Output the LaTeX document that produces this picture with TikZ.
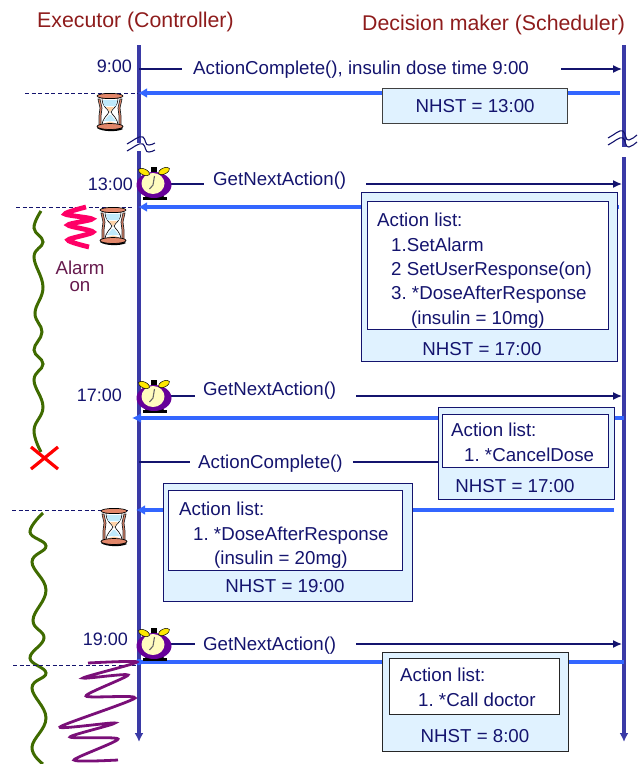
\documentclass[tikz,border=0pt]{standalone}
\usepackage{fontspec}
\setmainfont{Liberation Sans}
\usetikzlibrary{positioning,arrows.meta}
\definecolor{navytext}{HTML}{14146E}
\definecolor{lifecol}{HTML}{3A3AA6}
\definecolor{replyblue}{HTML}{3366FF}
\definecolor{boxfill}{HTML}{E0F2FF}
\definecolor{titlered}{HTML}{8E1C1C}
\definecolor{alarmmaroon}{HTML}{661A4D}
\definecolor{vinegreen}{HTML}{3F6B00}
\definecolor{spikepink}{HTML}{FF0066}
\definecolor{coilpurple}{HTML}{7A0F78}
\tikzset{
  lifeline/.style={draw=lifecol, line width=3.2pt},
  msgline/.style={draw=navytext, line width=1.4pt},
  msgarrow/.style={msgline, -{Latex[length=9pt,width=8pt]}},
  reply/.style={draw=replyblue, line width=3.3pt},
  replyarrow/.style={reply, -{Latex[length=9pt,width=10pt]}},
  waitline/.style={draw=navytext, line width=0.9pt, dash pattern=on 4pt off 2.6pt},
  breakmark/.style={draw=navytext, line width=1.1pt},
  title/.style={font=\fontsize{21.3}{24}\selectfont, text=titlered, inner sep=0pt},
  msglabel/.style={font=\fontsize{18.7}{24.4}\selectfont, text=navytext, inner sep=0pt},
  timelabel/.style={msglabel, anchor=east, font=\fontsize{18}{24}\selectfont},
  nhstbox/.style={draw=navytext, line width=1.2pt, fill=boxfill, anchor=north west, inner sep=0pt},
  actionbox/.style={draw=navytext, line width=1.2pt, fill=white, anchor=north west, inner sep=0pt},
  listtext/.style={msglabel, align=left},
  hourglass/.pic={
    \fill[black] (-13,16) .. controls (-8,20) and (8,20) .. (13,17) -- (8,14) -- (-9,14) -- cycle;
    \filldraw[fill=white, draw=black, line width=0.6pt] (-8,-14) .. controls (-8,-5) and (-2,-3) .. (-1,0)
      .. controls (-2,3) and (-8,6) .. (-8,14) -- (8,14) .. controls (8,6) and (2,3) .. (1,0)
      .. controls (2,-3) and (8,-5) .. (8,-14) -- cycle;
    \fill[cyan!25] (-7,-12) -- (7,-12) -- (6,-6) -- (-6,-6) -- cycle;
    \fill[cyan!25] (-1,3) -- (1,3) -- (6,9) -- (-6,9) -- cycle;
    \fill[orange!35] (-7,14) .. controls (-4,8) and (4,8) .. (7,14) -- cycle;
    \fill[orange!35] (-4,-5) -- (4,-5) -- (0,0) -- cycle;
    \draw[draw=black!85, fill=red!35!brown!70, line width=0.7pt] (-12,-13) -- (-10,-4) -- (-11,4) -- (-11,13) -- (-9,13) -- (-9,4) -- (-8,-4) -- (-10,-13) -- cycle;
    \draw[draw=black!85, fill=red!35!brown!70, line width=0.7pt] (12,-13) -- (10,-4) -- (11,4) -- (11,13) -- (9,13) -- (9,4) -- (8,-4) -- (10,-13) -- cycle;
    \filldraw[fill=red!35!brown!70, draw=black, line width=0.7pt] (0,-16) ellipse (13 and 2.6);
    \filldraw[fill=red!35!brown!70, draw=black, line width=0.7pt] (0,14.5) ellipse (13 and 3);
  },
  alarmclock/.pic={
    \fill[black] (-10,13) rectangle (14,16);
    \fill[black] (-7,9) -- (-4,9) -- (-5,14) -- (-8,14) -- cycle;
    \fill[black] (7,9) -- (10,9) -- (11,14) -- (8,14) -- cycle;
    \fill[violet!80!blue] (1,1) ellipse (17.5 and 13);
    \fill[yellow!25!white] (0,-0.5) ellipse (11.5 and 10.5);
    \draw[draw=gray!80!black, line width=1.1pt] (0,1) -- (1.5,-8) (0,1) -- (-3.5,5);
    \fill[black] (-2,-17) rectangle (4,-12);
    \filldraw[fill=yellow!90!orange, draw=black, line width=0.5pt, rotate around={-25:(-9,-12)}] (-9,-12) ellipse (6 and 3);
    \filldraw[fill=yellow!90!orange, draw=black, line width=0.5pt, rotate around={25:(11,-13)}] (11,-13) ellipse (6 and 3);
  },
}
\begin{document}
\frenchspacing
\begin{tikzpicture}[x=1pt,y=-1pt]
  \useasboundingbox (0,0) rectangle (640,764);

  \node[title, anchor=west] (exectitle) at (37,22) {Executor (Controller)};
  \node[title, anchor=west] (schedtitle) at (362,25) {Decision maker (Scheduler)};

  \coordinate (exectop) at (139,45);
  \coordinate (execgapa) at (139,143);
  \coordinate (execgapb) at (139,151);
  \coordinate (execend) at (139,742);
  \coordinate (schedtop) at (624,45);
  \coordinate (schedgapa) at (624,147);
  \coordinate (schedgapb) at (624,157);
  \coordinate (schedend) at (624,742);
  \draw[lifeline] (exectop) -- (execgapa);
  \draw[lifeline, -{Latex[length=9pt,width=9pt]}] (execgapb) -- (execend);
  \draw[lifeline] (schedtop) -- (schedgapa);
  \draw[lifeline, -{Latex[length=9pt,width=9pt]}] (schedgapb) -- (schedend);

  \foreach \wy in {0,7} {
    \draw[breakmark, yshift=-\wy pt] (127,144) .. controls (133,141) and (139,135) .. (143,137) .. controls (146,139) and (145,146) .. (149,145) .. controls (151,145) and (153,144) .. (155,143);
    \draw[breakmark, yshift=-\wy pt] (608,138) .. controls (614,135) and (620,129) .. (623,131) .. controls (626,133) and (625,141) .. (629,140) .. controls (632,139) and (635,137) .. (637,135);
  }

  % 9:00
  \coordinate (execa) at (139,69);
  \coordinate (scheda) at (622,69);
  \node[msglabel, right=54pt of execa, yshift=-1pt] (msga) {ActionComplete(), insulin dose time 9:00};
  \node[timelabel] (timea) at (132,66) {9:00};
  \draw[msgline] (execa) -- ([xshift=-11pt]msga.west |- execa);
  \draw[msgarrow] ([xshift=32pt]msga.east |- scheda) -- (scheda);
  \coordinate (execwaita) at (138,93);
  \coordinate (schedwaita) at (620,93);
  \coordinate (dasha) at (25,93);
  \draw[waitline] (dasha) -- (execwaita);
  \draw[replyarrow] (schedwaita) -- (execwaita);
  \node[nhstbox, draw=black!75, minimum width=185pt, minimum height=35pt, msglabel] (nhsta) at (382,88) {NHST = 13:00};
  \pic at (110,112) {hourglass};

  % 13:00
  \coordinate (execb) at (170,184);
  \coordinate (schedb) at (622,184);
  \node[msglabel, anchor=west] (msgb) at (213,180.5) {GetNextAction()};
  \node[timelabel] (timeb) at (133,184) {13:00};
  \draw[msgline] (execb) -- ([xshift=-9pt]msgb.west |- execb);
  \draw[msgarrow] ([xshift=20pt]msgb.east |- schedb) -- (schedb);
  \coordinate (execwaitb) at (138,207);
  \coordinate (schedwaitb) at (619,207);
  \coordinate (dashb) at (16,207);
  \coordinate (dashbend) at (132,207);
  \draw[waitline] (dashb) -- (dashbend);
  \draw[replyarrow] (schedwaitb) -- (execwaitb);
  \node[nhstbox, minimum width=256pt, minimum height=169pt] (boxb) at (361,192) {};
  \node[actionbox, minimum width=241pt, minimum height=128pt] (listb) at (367,201) {};
  \node[listtext, below right=12pt and 10pt of listb.north west] (textb) {Action list:\\
    \hspace*{14pt}1.SetAlarm\\
    \hspace*{14pt}2 SetUserResponse(on)\\
    \hspace*{14pt}3. *DoseAfterResponse\\
    \hspace*{34pt}(insulin = 10mg)};
  \node[msglabel] (nhstb) at (482,349) {NHST = 17:00};
  \pic at (153,184) {alarmclock};
  \pic at (113,226) {hourglass};

  \draw[draw=vinegreen, line width=3pt] plot[smooth, tension=0.7] coordinates {(41,211) (34,228) (43,242) (34,257) (43,287) (35,313) (42,332) (34,350) (43,364) (34,380) (43,407) (34,430) (41,452)};
  \draw[draw=spikepink, line width=4.8pt] plot[smooth, tension=0.45] coordinates {(86,207) (65,214) (92,219) (68,225) (93,232) (68,240) (89,247)};
  \node[msglabel, text=alarmmaroon, align=center, font=\fontsize{18.7}{17}\selectfont] (alarm) at (80,276) {Alarm\\on};
  \coordinate (crossa) at (31,447);
  \coordinate (crossb) at (58,469);
  \coordinate (crossc) at (58,447);
  \coordinate (crossd) at (31,469);
  \draw[red, line width=3.2pt] (crossa) -- (crossb) (crossc) -- (crossd);

  % 17:00
  \coordinate (execc) at (170,396);
  \coordinate (schedc) at (622,396);
  \node[msglabel, anchor=west] (msgc) at (203,391) {GetNextAction()};
  \node[timelabel] (timec) at (122,395) {17:00};
  \draw[msgline] (execc) -- ([xshift=-8pt]msgc.west |- execc);
  \draw[msgarrow] ([xshift=20pt]msgc.east |- schedc) -- (schedc);
  \coordinate (execwaitc) at (132,418);
  \coordinate (schedwaitc) at (624,418);
  \draw[replyarrow] (schedwaitc) -- (execwaitc);
  \pic at (153,397) {alarmclock};

  \coordinate (execd) at (139,462);
  \node[msglabel, right=59pt of execd, yshift=-2pt] (msgd) {ActionComplete()};
  \coordinate (boxdedge) at (438,462);
  \draw[msgline] (execd) -- ([xshift=-8pt]msgd.west |- execd);
  \draw[msgline] ([xshift=10pt]msgd.east |- boxdedge) -- (boxdedge);

  \node[nhstbox, minimum width=176pt, minimum height=92pt] (boxc) at (438,407) {};
  \node[actionbox, minimum width=166pt, minimum height=53pt] (listc) at (442,414) {};
  \node[listtext, below right=9pt and 9pt of listc.north west] (textc) {Action list:\\
    \hspace*{13pt}1. *CancelDose};
  \node[msglabel] (nhstc) at (515,486) {NHST = 17:00};

  % dose after response
  \coordinate (execwaite) at (136,510);
  \coordinate (schedwaite) at (614,510);
  \coordinate (dashe) at (12,510);
  \coordinate (dasheend) at (128,510);
  \draw[waitline] (dashe) -- (dasheend);
  \draw[replyarrow] (schedwaite) -- (execwaite);
  \node[nhstbox, minimum width=249pt, minimum height=118pt] (boxe) at (163,483) {};
  \node[actionbox, minimum width=234pt, minimum height=80pt] (liste) at (168,490) {};
  \node[listtext, below right=12pt and 11pt of liste.north west] (texte) {Action list:\\
    \hspace*{14pt}1. *DoseAfterResponse\\
    \hspace*{35pt}(insulin = 20mg)};
  \node[msglabel] (nhste) at (285,586) {NHST = 19:00};
  \pic at (114,527) {hourglass};

  \draw[draw=vinegreen, line width=3pt] plot[smooth, tension=0.7] coordinates {(43,513) (30,532) (46,546) (32,562) (46,590) (33,620) (44,638) (30,658) (46,673) (32,688) (46,718) (32,747) (43,764)};

  % 19:00
  \coordinate (execf) at (170,644);
  \coordinate (schedf) at (622,644);
  \node[msglabel, anchor=west] (msgf) at (203,646) {GetNextAction()};
  \node[timelabel] (timef) at (128,639) {19:00};
  \draw[msgline] (execf) -- ([xshift=-8pt]msgf.west |- execf);
  \draw[msgarrow] ([xshift=20pt]msgf.east |- schedf) -- (schedf);
  \coordinate (dashf) at (13,665);
  \coordinate (dashfend) at (137,665);
  \coordinate (execwaitf) at (139,662);
  \coordinate (schedwaitf) at (624,662);
  \draw[waitline] (dashf) -- (dashfend);
  \draw[reply] (schedwaitf) -- (execwaitf);
  \fill[replyblue] (execwaitf) circle (3.2);
  \draw[draw=coilpurple, line width=2.8pt] plot[smooth, tension=0.42] coordinates {(88,663) (137,662) (83,678) (128,675) (86,696) (135,698) (60,727) (115,723) (70,737) (118,739) (74,760) (118,760)};
  \node[nhstbox, draw=black!85, minimum width=186pt, minimum height=99pt] (boxf) at (382,652) {};
  \node[actionbox, draw=black!85, minimum width=170pt, minimum height=56pt] (listf) at (389,658) {};
  \node[listtext, below right=10pt and 11pt of listf.north west] (textf) {Action list:\\
    \hspace*{18pt}1. *Call doctor};
  \node[msglabel] (nhstf) at (475,736) {NHST = 8:00};
  \pic at (153,645) {alarmclock};
\end{tikzpicture}
\end{document}
